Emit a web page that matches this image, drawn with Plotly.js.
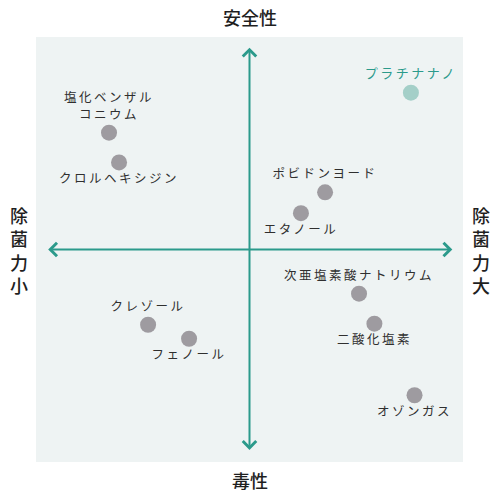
<!DOCTYPE html>
<html>
<head>
<meta charset="utf-8">
<script src="https://cdn.plot.ly/plotly-3.0.1.min.js"></script>
<style>
  html, body { margin: 0; padding: 0; background: #ffffff; }
  #chart { width: 500px; height: 500px; }
  .textpoint text { letter-spacing: 2.5px; }
</style>
</head>
<body>
<div id="chart"></div>
<script>
// positioning map: x = 除菌力 (small -> large), y = 毒性 -> 安全性
const names = [
  "塩化ベンザル<br>コニウム",
  "クロルヘキシジン",
  "ポビドンヨード",
  "エタノール",
  "クレゾール",
  "フェノール",
  "次亜塩素酸ナトリウム",
  "二酸化塩素",
  "オゾンガス",
];
const xValues = [-65.8, -61.1, 35.4, 24.1, -47.5, -28.3, 51.3, 58.5, 77.3];
const yValues = [55.0, 41.0, 26.9, 17.1, -35.4, -42.0, -20.8, -34.9, -68.6];
const labelSide = ["top", "bottom", "top", "bottom", "top", "bottom", "top", "bottom", "bottom"];

const highlightName = ["プラチナナノ"];
const highlightX = [75.6];
const highlightY = [73.8];

const axisLabels = {
  top: "安全性",
  bottom: "毒性",
  left: "除<br>菌<br>力<br>小",
  right: "除<br>菌<br>力<br>大",
};

const teal = "#2b9a8b";
const font = "'Noto Sans CJK JP', 'Noto Sans', sans-serif";

const data = [
  {
    type: "scatter",
    mode: "markers+text",
    x: xValues,
    y: yValues,
    text: names,
    textposition: labelSide.map((s) => s + " center"),
    textfont: { family: font, size: 12.5, color: "#2f2f2f" },
    marker: { size: 16, color: "#9e9ba0" },
    hoverinfo: "skip",
  },
  {
    type: "scatter",
    mode: "markers+text",
    x: highlightX,
    y: highlightY,
    text: highlightName,
    textposition: "top center",
    textfont: { family: font, size: 13, color: teal },
    marker: { size: 16, color: "#a4cfc8" },
    hoverinfo: "skip",
  },
];

const sideFont = { family: font, size: 18, color: "#1f1f1f", weight: 500 };

const layout = {
  width: 500,
  height: 500,
  showlegend: false,
  margin: { l: 36, r: 37, t: 37, b: 38, pad: 0 },
  paper_bgcolor: "#ffffff",
  plot_bgcolor: "#eef3f3",
  xaxis: {
    range: [-100, 100],
    showgrid: false,
    zeroline: false,
    showticklabels: false,
    showline: false,
    fixedrange: true,
  },
  yaxis: {
    range: [-100, 100],
    showgrid: false,
    zeroline: false,
    showticklabels: false,
    showline: false,
    fixedrange: true,
  },
  annotations: [
    // vertical double arrow
    {
      x: 0, y: 95, ax: 0, ay: -95,
      xref: "x", yref: "y", axref: "x", ayref: "y",
      text: "", showarrow: true,
      arrowside: "end+start",
      arrowhead: 4, startarrowhead: 4,
      arrowsize: 1.3, startarrowsize: 1.3,
      arrowwidth: 2, arrowcolor: teal,
    },
    // horizontal double arrow
    {
      x: 95, y: 0, ax: -95, ay: 0,
      xref: "x", yref: "y", axref: "x", ayref: "y",
      text: "", showarrow: true,
      arrowside: "end+start",
      arrowhead: 4, startarrowhead: 4,
      arrowsize: 1.3, startarrowsize: 1.3,
      arrowwidth: 2, arrowcolor: teal,
    },
    {
      text: axisLabels.top, xref: "paper", yref: "paper",
      x: 0.5, y: 1.047, xanchor: "center", yanchor: "middle",
      showarrow: false, font: sideFont,
    },
    {
      text: axisLabels.bottom, xref: "paper", yref: "paper",
      x: 0.5, y: -0.042, xanchor: "center", yanchor: "middle",
      showarrow: false, font: sideFont,
    },
    {
      text: axisLabels.left, xref: "paper", yref: "paper",
      x: -0.04, y: 0.5, xanchor: "center", yanchor: "middle",
      showarrow: false, font: sideFont,
    },
    {
      text: axisLabels.right, xref: "paper", yref: "paper",
      x: 1.042, y: 0.5, xanchor: "center", yanchor: "middle",
      showarrow: false, font: sideFont,
    },
  ],
};

const config = { staticPlot: true, displayModeBar: false };

Plotly.newPlot("chart", data, layout, config);
</script>
</body>
</html>
